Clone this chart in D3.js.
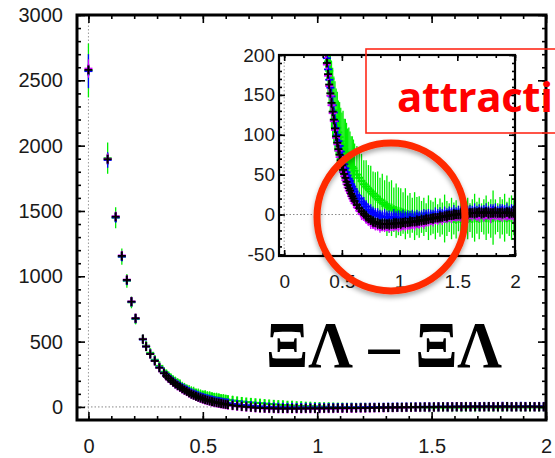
<!doctype html>
<html lang="en">
<head>
<meta charset="utf-8">
<title>XiLambda - XiLambda potential</title>
<script src="https://d3js.org/d3.v7.min.js"></script>
<style>
  body { margin: 0; background: #fff; }
  svg { display: block; }
  .tick text { font-family: "Liberation Sans", Arial, sans-serif; fill: #1a1a1a; }
</style>
</head>
<body>
<svg width="555" height="458"></svg>
<script>
// distances r (fm)
var r = [0, 0.084, 0.119, 0.146, 0.168, 0.188, 0.206, 0.238, 0.252,
  0.27, 0.29, 0.31, 0.33, 0.34, 0.35, 0.36, 0.37, 0.38, 0.39, 0.40,
  0.41, 0.42, 0.43, 0.44, 0.45, 0.46, 0.47, 0.48, 0.49, 0.50,
  0.51, 0.52, 0.53, 0.54, 0.55, 0.56, 0.57, 0.58, 0.59, 0.60,
  0.61, 0.63, 0.65, 0.67, 0.69, 0.71, 0.73, 0.75, 0.77, 0.79,
  0.81, 0.83, 0.85, 0.87, 0.89, 0.91, 0.93, 0.95, 0.97, 0.99,
  1.01, 1.03, 1.05, 1.07, 1.09, 1.11, 1.13, 1.15, 1.17, 1.19,
  1.21, 1.23, 1.25, 1.27, 1.29, 1.31, 1.33, 1.35, 1.37, 1.39,
  1.41, 1.43, 1.45, 1.47, 1.49, 1.51, 1.53, 1.55, 1.57, 1.59, 1.61,
  1.63, 1.65, 1.67, 1.69, 1.71, 1.73, 1.75, 1.77, 1.79, 1.81, 1.83, 1.85, 1.87, 1.89, 1.91, 1.93, 1.95, 1.97, 1.99];

var vGreen = [2575, 1905, 1448, 1150, 965, 800, 672, 522, 470,
  415, 362, 315, 270, 252, 236, 220, 205, 192, 180, 170,
  150, 140, 131, 123, 116, 109, 103, 97, 92, 88,
  86, 82, 78, 75, 72, 69, 66, 63, 60, 58,
  55, 50, 46, 42, 38, 35, 32, 29, 26, 23,
  20, 18, 15, 13, 11, 9, 8, 6, 5, 4,
  3, 2, 1, 0, -1, -1, -2, -2, -3, -3,
  -3, -4, -4, -4, -4, -5, -5, -4, -5, -5,
  -5, -4, -5, -5, -6, -5, -5, -4, -5, -5, -4,
  -5, -4, -4, -5, -4, -3, -4, -4, -5, -4, -3, -4, -4, -3, -4, -4, -3, -4, -4];
var eGreen = [206, 120, 80, 62, 52, 45, 40, 36, 34,
  32, 30, 30, 30, 32, 34, 36, 38, 40, 40, 42,
  42, 44, 42, 44, 42, 45, 40, 44, 42, 40,
  44, 38, 42, 40, 36, 40, 38, 35, 38, 36,
  34, 36, 32, 34, 30, 33, 30, 32, 28, 30,
  34, 28, 36, 30, 38, 32, 35, 28, 34, 30,
  30, 26, 32, 24, 28, 22, 30, 24, 26, 20,
  24, 18, 28, 22, 20, 26, 18, 24, 20, 30,
  22, 18, 26, 20, 24, 16, 28, 20, 22, 26, 18,
  24, 30, 20, 26, 18, 22, 28, 20, 24, 34, 22, 18, 26, 22, 30, 20, 24, 28, 22];

var vBlue = [2570, 1890, 1450, 1150, 968, 804, 676, 516, 462,
  407, 355, 303, 262, 242, 225, 209, 196, 182, 169, 159,
  148, 137, 128, 117, 108, 100, 92, 86, 79, 73,
  67, 63, 58, 53, 49, 45, 42, 38, 35, 32,
  29, 24, 20, 16, 13, 10, 6, 4, 2, 0,
  -1, -2, -3, -3, -3, -4, -4, -3, -4, -4,
  -4, -4, -4, -4, -4, -4, -4, -3, -4, -3,
  -3, -2, -2, -2, -2, -1, -1, 0, -1, 0,
  0, 1, 1, 2, 1, 2, 2, 3, 2, 3, 3,
  3, 4, 3, 4, 3, 4, 4, 3, 4, 5, 4, 3, 4, 5, 4, 4, 3, 4, 4];
var eBlue = [130, 60, 40, 30, 26, 22, 20, 18, 16,
  14, 13, 12, 12, 11, 11, 11, 10, 10, 10, 10,
  10, 9, 10, 9, 9, 10, 9, 9, 8, 9,
  9, 8, 9, 8, 8, 9, 8, 8, 9, 8,
  8, 9, 8, 8, 9, 8, 8, 9, 8, 8,
  9, 8, 8, 10, 8, 9, 8, 10, 8, 9,
  8, 10, 8, 9, 8, 10, 8, 9, 8, 8,
  10, 8, 9, 8, 8, 10, 8, 9, 8, 10,
  8, 9, 8, 10, 8, 9, 8, 8, 10, 8, 9,
  8, 10, 8, 9, 8, 8, 10, 8, 9, 8, 10, 8, 9, 8, 8, 10, 8, 9, 8];

var vMagenta = [2590, 1900, 1460, 1160, 975, 808, 680, 520, 464,
  405, 351, 299, 257, 237, 218, 202, 188, 174, 161, 149,
  137, 127, 117, 106, 96, 88, 80, 72, 65, 59,
  53, 48, 43, 38, 34, 30, 27, 23, 20, 17,
  14, 9, 5, 1, -2, -5, -8, -10, -12, -13,
  -14, -15, -15, -15, -15, -15, -15, -14, -14, -14,
  -14, -13, -13, -13, -12, -12, -12, -11, -11, -10,
  -10, -9, -8, -7, -7, -6, -6, -5, -5, -4,
  -4, -3, -3, -2, -2, -2, -1, -1, -1, -1, 0,
  0, 0, -1, 0, 0, -1, 0, 0, -1, 0, 0, -1, -1, 0, -1, 0, -1, 0, -1];
var eMagenta = [70, 40, 26, 20, 16, 14, 12, 10, 10,
  9, 8, 8, 7, 7, 7, 7, 7, 6, 7, 6,
  7, 6, 7, 6, 6, 7, 6, 6, 7, 6,
  6, 7, 6, 6, 7, 6, 6, 7, 6, 6,
  7, 6, 6, 8, 6, 7, 6, 8, 6, 7,
  6, 8, 6, 7, 6, 8, 6, 7, 6, 8,
  7, 6, 8, 6, 7, 6, 8, 6, 7, 6,
  8, 6, 7, 6, 8, 6, 7, 6, 8, 6,
  7, 6, 8, 6, 7, 6, 8, 6, 7, 9, 6,
  8, 6, 7, 9, 6, 8, 6, 7, 10, 6, 8, 6, 7, 9, 6, 8, 6, 7, 8];

var vBlack = [2580, 1896, 1456, 1156, 972, 806, 679, 518, 462,
  405, 352, 300, 258, 238, 220, 204, 190, 176, 163, 152,
  140, 129, 119, 108, 98, 90, 82, 75, 68, 62,
  56, 51, 46, 41, 37, 33, 30, 26, 23, 20,
  17, 12, 8, 4, 1, -2, -5, -7, -9, -10,
  -11, -12, -12, -12, -12, -12, -12, -11, -11, -11,
  -11, -10, -10, -10, -9, -9, -9, -8, -8, -7,
  -7, -6, -6, -5, -5, -4, -4, -3, -3, -2,
  -2, -1, -1, 0, 0, 0, 1, 1, 1, 1, 2,
  2, 2, 2, 3, 2, 2, 3, 2, 2, 2, 3, 2, 2, 2, 2, 3, 2, 2, 2];
var eBlack = [20, 14, 10, 8, 7, 6, 6, 5, 5,
  5, 5, 5, 5, 5, 5, 5, 5, 5, 5, 5,
  6, 5, 6, 6, 5, 6, 6, 5, 6, 6,
  6, 6, 6, 6, 6, 6, 6, 6, 6, 6,
  6, 6, 6, 6, 6, 7, 6, 6, 7, 6,
  7, 6, 7, 7, 6, 7, 6, 7, 7, 6,
  7, 6, 7, 6, 7, 6, 6, 7, 6, 7,
  6, 7, 6, 6, 7, 6, 6, 7, 6, 6,
  7, 6, 6, 7, 6, 6, 7, 6, 6, 7, 6,
  6, 7, 6, 6, 7, 6, 6, 7, 6, 6, 7, 6, 6, 7, 6, 6, 7, 6, 6];

var xTicks = [0, 0.5, 1, 1.5, 2];
var yTicks = [0, 500, 1000, 1500, 2000, 2500, 3000];
var yTicksInset = [-50, 0, 50, 100, 150, 200];

var series = [
  {color: '#00ee00', v: vGreen, e: eGreen},
  {color: '#0000ff', v: vBlue, e: eBlue},
  {color: '#d000ff', v: vMagenta, e: eMagenta},
  {color: '#000000', v: vBlack, e: eBlack}
];

var svg = d3.select('svg');

// main panel scales
var x = d3.scaleLinear().domain([-0.05, 2]).range([77, 546]);
var y = d3.scaleLinear().domain([-100, 3000]).range([420, 15]);
// inset scales
var xi = d3.scaleLinear().domain([-0.045, 2]).range([279, 515]);
var yi = d3.scaleLinear().domain([-52, 200]).range([256, 55]);

var defs = svg.append('defs');
defs.append('clipPath').attr('id', 'clipMain').append('rect')
  .attr('x', 77).attr('y', 15).attr('width', 469).attr('height', 405);
defs.append('clipPath').attr('id', 'clipInset').append('rect')
  .attr('x', 279).attr('y', 55).attr('width', 236).attr('height', 201);
var shadow = defs.append('filter').attr('id', 'shadow')
  .attr('x', '-20%').attr('y', '-20%').attr('width', '140%').attr('height', '140%');
shadow.append('feDropShadow').attr('dx', 0).attr('dy', 3).attr('stdDeviation', 2.5)
  .attr('flood-color', '#000').attr('flood-opacity', 0.35);

function panel(xs, ys, o) {
  var g = svg.append('g');
  var x0 = xs.range()[0], x1 = xs.range()[1], y0 = ys.range()[1], y1 = ys.range()[0];

  g.append('rect').attr('x', x0).attr('y', y0).attr('width', x1 - x0).attr('height', y1 - y0)
    .attr('fill', '#fff');

  // dotted zero lines
  g.append('line').attr('x1', x0).attr('x2', x1).attr('y1', ys(0)).attr('y2', ys(0))
    .attr('stroke', '#888').attr('stroke-width', 1).attr('stroke-dasharray', '1.5,2');
  g.append('line').attr('x1', xs(0)).attr('x2', xs(0)).attr('y1', y0).attr('y2', y1)
    .attr('stroke', '#999').attr('stroke-width', 1).attr('stroke-dasharray', '1.5,2');

  // data
  var dg = g.append('g').attr('clip-path', 'url(#' + o.clip + ')');
  series.forEach(function(s) {
    var pts = r.map(function(d, i) { return {x: d, v: s.v[i], e: s.e[i]}; });
    var sg = dg.append('g').attr('stroke', s.color);
    sg.selectAll('.eb').data(pts).join('line').attr('class', 'eb')
      .attr('x1', function(d) { return xs(d.x); }).attr('x2', function(d) { return xs(d.x); })
      .attr('y1', function(d) { return ys(d.v - d.e); }).attr('y2', function(d) { return ys(d.v + d.e); })
      .attr('stroke-width', 1.3);
    sg.selectAll('.mh').data(pts).join('line').attr('class', 'mh')
      .attr('x1', function(d) { return xs(d.x) - 4; }).attr('x2', function(d) { return xs(d.x) + 4; })
      .attr('y1', function(d) { return ys(d.v); }).attr('y2', function(d) { return ys(d.v); })
      .attr('stroke-width', 1.8);
    sg.selectAll('.mv').data(pts).join('line').attr('class', 'mv')
      .attr('x1', function(d) { return xs(d.x); }).attr('x2', function(d) { return xs(d.x); })
      .attr('y1', function(d) { return ys(d.v) - 4.5; }).attr('y2', function(d) { return ys(d.v) + 4.5; })
      .attr('stroke-width', 2);
  });

  // axes with inward ticks
  function ax(fn, tx, ty, scale, vals, len, fmt, pad) {
    var a = fn(scale).tickValues(vals).tickSize(-len).tickPadding(pad || 3)
      .tickFormat(fmt || function() { return ''; });
    var ag = g.append('g').attr('transform', 'translate(' + tx + ',' + ty + ')').call(a);
    ag.select('.domain').remove();
    ag.selectAll('.tick line').attr('stroke', '#000').attr('stroke-width', 1.6);
    ag.attr('font-size', o.fs).attr('font-family', null);
    return ag;
  }
  var lbl = function(d) { return String(d); };
  ax(d3.axisBottom, 0, y1, xs, o.xMinor, o.small);
  ax(d3.axisBottom, 0, y1, xs, xTicks, o.big, lbl, o.xPad);
  ax(d3.axisTop, 0, y0, xs, o.xMinor, o.small);
  ax(d3.axisTop, 0, y0, xs, xTicks, o.big);
  ax(d3.axisLeft, x0, 0, ys, o.yMinor, o.small);
  ax(d3.axisLeft, x0, 0, ys, o.yMajor, o.big, lbl, o.yPad);
  ax(d3.axisRight, x1, 0, ys, o.yMinor, o.small);
  ax(d3.axisRight, x1, 0, ys, o.yMajor, o.big);

  g.append('rect').attr('x', x0).attr('y', y0).attr('width', x1 - x0).attr('height', y1 - y0)
    .attr('fill', 'none').attr('stroke', '#000').attr('stroke-width', o.border);
}

panel(x, y, {
  clip: 'clipMain', fs: 20, big: 8, small: 4, border: 3, xPad: 18.5, yPad: 14,
  xMinor: d3.range(0, 2.001, 0.1), yMinor: d3.range(0, 3001, 100), yMajor: yTicks
});
panel(xi, yi, {
  clip: 'clipInset', fs: 19, big: 6, small: 3, border: 2.2, xPad: 18.5, yPad: 4,
  xMinor: d3.range(0, 2.001, 0.5 / 3), yMinor: d3.range(-50, 201, 10), yMajor: yTicksInset
});

// annotations
svg.append('rect').attr('x', 366).attr('y', 49).attr('width', 200).attr('height', 84)
  .attr('fill', 'none').attr('stroke', '#ff2a1a').attr('stroke-width', 1.6);
svg.append('text').attr('x', 397).attr('y', 112)
  .attr('font-family', '"Open Sans", sans-serif').attr('font-weight', 700).attr('font-size', 42)
  .attr('fill', '#ff0000').attr('textLength', 156).attr('lengthAdjust', 'spacing')
  .text('attracti');

svg.append('circle').attr('cx', 391).attr('cy', 217).attr('r', 74)
  .attr('fill', 'none').attr('stroke', '#ff2c00').attr('stroke-width', 7)
  .attr('filter', 'url(#shadow)');

svg.append('text').attr('x', 266).attr('y', 367)
  .attr('font-family', '"Liberation Serif", "Times New Roman", serif').attr('font-size', 66)
  .attr('font-weight', 700)
  .attr('fill', '#000').attr('textLength', 236).attr('lengthAdjust', 'spacingAndGlyphs')
  .text('ΞΛ – ΞΛ');
</script>
</body>
</html>
